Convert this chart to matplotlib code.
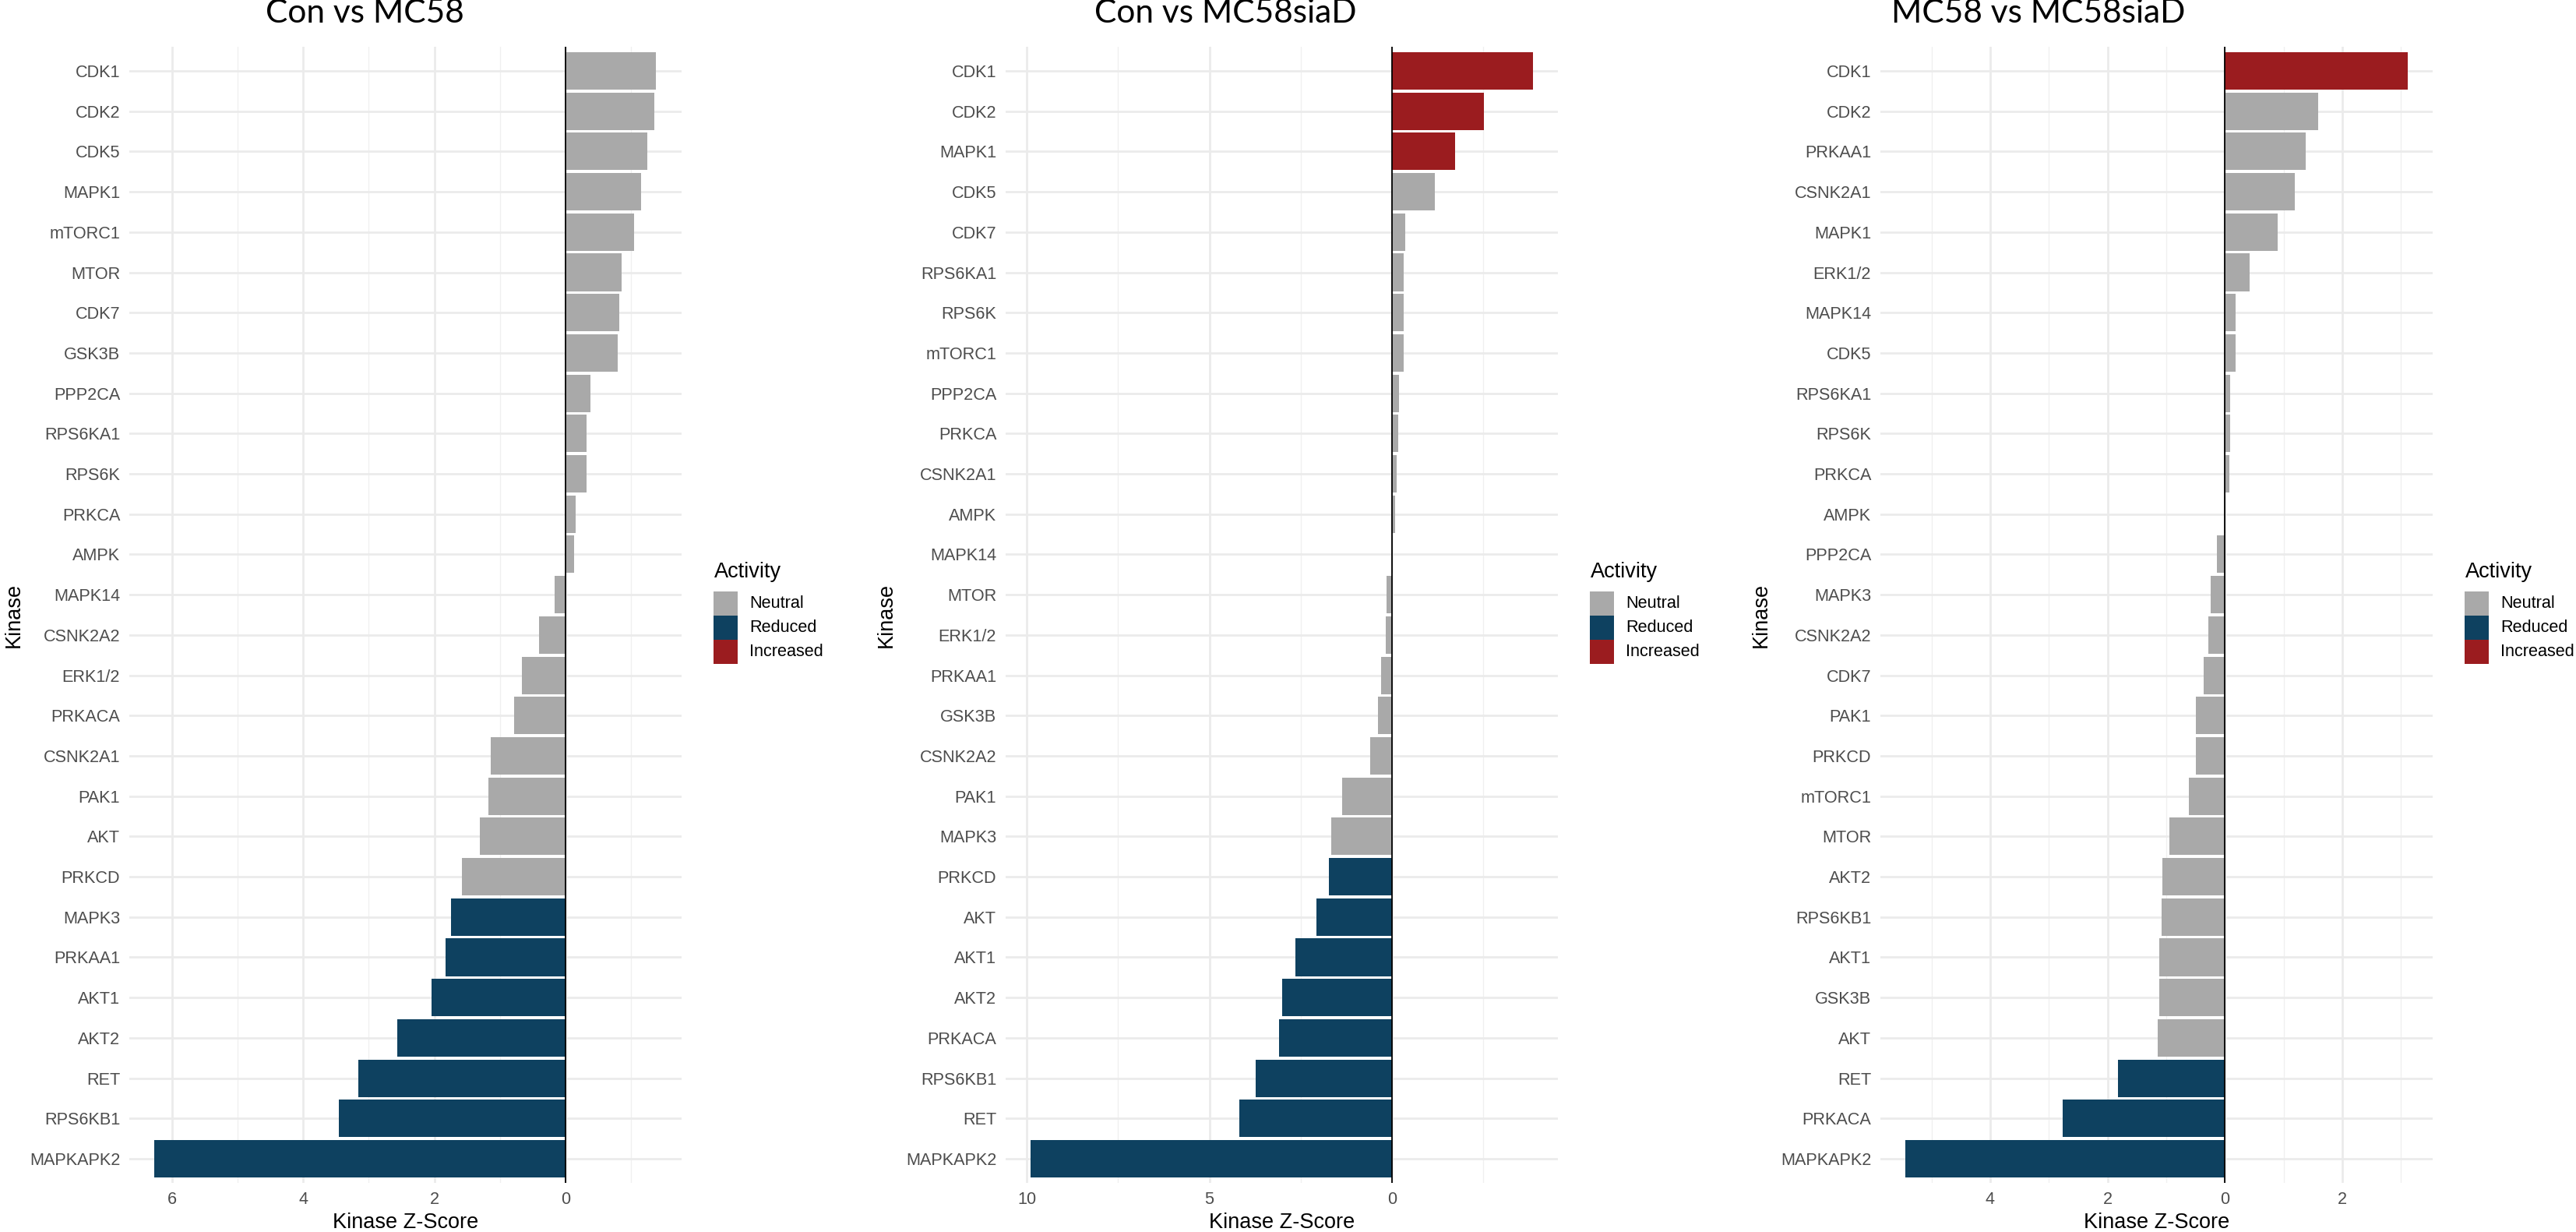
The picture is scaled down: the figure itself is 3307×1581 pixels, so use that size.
import matplotlib.pyplot as plt
from matplotlib.patches import Rectangle
from matplotlib.ticker import FixedLocator, FuncFormatter

plt.rcParams['font.family'] = ['Liberation Sans', 'DejaVu Sans']

# --- data (positive = right of zero) ---
titles = ['Con vs MC58', 'Con vs MC58siaD', 'MC58 vs MC58siaD']

kin1 = ['CDK1', 'CDK2', 'CDK5', 'MAPK1', 'mTORC1', 'MTOR', 'CDK7', 'GSK3B', 'PPP2CA',
        'RPS6KA1', 'RPS6K', 'PRKCA', 'AMPK', 'MAPK14', 'CSNK2A2', 'ERK1/2', 'PRKACA',
        'CSNK2A1', 'PAK1', 'AKT', 'PRKCD', 'MAPK3', 'PRKAA1', 'AKT1', 'AKT2', 'RET',
        'RPS6KB1', 'MAPKAPK2']
z1 = [1.38, 1.35, 1.25, 1.15, 1.05, 0.86, 0.82, 0.80, 0.38, 0.32, 0.32, 0.155, 0.13,
      -0.165, -0.40, -0.66, -0.78, -1.14, -1.18, -1.30, -1.58, -1.75, -1.83, -2.04,
      -2.56, -3.16, -3.45, -6.27]
reduced1 = ['MAPK3', 'PRKAA1', 'AKT1', 'AKT2', 'RET', 'RPS6KB1', 'MAPKAPK2']
increased1 = []

kin2 = ['CDK1', 'CDK2', 'MAPK1', 'CDK5', 'CDK7', 'RPS6KA1', 'RPS6K', 'mTORC1', 'PPP2CA',
        'PRKCA', 'CSNK2A1', 'AMPK', 'MAPK14', 'MTOR', 'ERK1/2', 'PRKAA1', 'GSK3B',
        'CSNK2A2', 'PAK1', 'MAPK3', 'PRKCD', 'AKT', 'AKT1', 'AKT2', 'PRKACA', 'RPS6KB1',
        'RET', 'MAPKAPK2']
z2 = [3.86, 2.52, 1.73, 1.17, 0.35, 0.31, 0.31, 0.31, 0.19, 0.16, 0.12, 0.08, 0.01,
      -0.15, -0.17, -0.30, -0.38, -0.59, -1.37, -1.67, -1.74, -2.07, -2.65, -3.01,
      -3.09, -3.74, -4.18, -9.90]
reduced2 = ['PRKCD', 'AKT', 'AKT1', 'AKT2', 'PRKACA', 'RPS6KB1', 'RET', 'MAPKAPK2']
increased2 = ['CDK1', 'CDK2', 'MAPK1']

kin3 = ['CDK1', 'CDK2', 'PRKAA1', 'CSNK2A1', 'MAPK1', 'ERK1/2', 'MAPK14', 'CDK5',
        'RPS6KA1', 'RPS6K', 'PRKCA', 'AMPK', 'PPP2CA', 'MAPK3', 'CSNK2A2', 'CDK7', 'PAK1',
        'PRKCD', 'mTORC1', 'MTOR', 'AKT2', 'RPS6KB1', 'AKT1', 'GSK3B', 'AKT', 'RET',
        'PRKACA', 'MAPKAPK2']
z3 = [3.11, 1.59, 1.37, 1.19, 0.90, 0.42, 0.18, 0.18, 0.09, 0.09, 0.07, 0.01, -0.13,
      -0.24, -0.28, -0.36, -0.49, -0.49, -0.62, -0.94, -1.06, -1.08, -1.12, -1.12,
      -1.14, -1.82, -2.77, -5.45]
reduced3 = ['RET', 'PRKACA', 'MAPKAPK2']
increased3 = ['CDK1']

levels = ['Neutral', 'Reduced', 'Increased']
colors = {'Neutral': '#A9A9A9', 'Reduced': '#0E4160', 'Increased': '#9B1C1F'}

# --- layout (pixels) ---
W, H = 3307, 1581
fig = plt.figure(figsize=(W / 100, H / 100), dpi=100)

ax_left = [166, 1291, 2414]
ax_w = 709
top, bottom = 60, 1518
ax_h = bottom - top
xlims = [(-6.65, 1.77), (-10.58, 4.54), (-5.87, 3.54)]
major = [[-6, -4, -2, 0], [-10, -5, 0], [-4, -2, 0, 2]]
minor = [[-5, -3, -1, 1], [-7.5, -2.5, 2.5], [-5, -3, -1, 1, 3]]
title_x = [468, 1573, 2617]
ylab_x = [18, 1138, 2261]

panels = [(kin1, z1, reduced1, increased1),
          (kin2, z2, reduced2, increased2),
          (kin3, z3, reduced3, increased3)]

for i, (kin, z, red, inc) in enumerate(panels):
    ax = fig.add_axes([ax_left[i] / W, (H - bottom) / H, ax_w / W, ax_h / H])
    act = ['Reduced' if k in red else 'Increased' if k in inc else 'Neutral' for k in kin]
    ypos = list(range(len(kin)))
    ax.barh(ypos, z, height=0.93, color=[colors[a] for a in act], zorder=2)
    ax.axvline(0, color='black', lw=1.3, zorder=3)

    ax.set_xlim(*xlims[i])
    ax.set_ylim(len(kin) - 0.4, -0.6)
    ax.set_yticks(ypos)
    ax.set_yticklabels(kin)
    ax.xaxis.set_major_locator(FixedLocator(major[i]))
    ax.xaxis.set_minor_locator(FixedLocator(minor[i]))
    ax.xaxis.set_major_formatter(FuncFormatter(lambda v, p: f'{abs(v):g}'))

    ax.set_axisbelow(True)
    ax.grid(which='major', color='#EBEBEB', lw=2.0)
    ax.grid(which='minor', axis='x', color='#F0F0F0', lw=1.0)
    for s in ax.spines.values():
        s.set_visible(False)
    ax.tick_params(which='both', length=0, labelsize=15.6, labelcolor='#4D4D4D')
    ax.tick_params(axis='y', pad=8.5)
    ax.tick_params(axis='x', pad=8)

    ax.set_xlabel('Kinase Z-Score', fontsize=19.5)
    ax.xaxis.set_label_coords(0.5, (bottom - 1569) / ax_h)
    ax.xaxis.label.set_va('center')
    ax.set_ylabel('Kinase', fontsize=19.5)
    ax.yaxis.set_label_coords((ylab_x[i] - ax_left[i]) / ax_w, 0.5)
    ax.yaxis.label.set_va('center')

    # legend, drawn by hand so the keys touch like ggplot's
    def pa(px, py):
        return ((px - ax_left[i]) / ax_w, (bottom - py) / ax_h)

    x0 = ax_left[i] + 750
    ax.text(*pa(x0 + 1, 741), 'Activity', fontsize=19.5, ha='left', va='baseline',
            transform=ax.transAxes)
    for j, lab in enumerate(levels):
        y0 = 759 + 31 * j
        ax.add_patch(Rectangle(pa(x0, y0 + 31), 31 / ax_w, 31 / ax_h, transform=ax.transAxes,
                               facecolor=colors[lab], edgecolor='none', clip_on=False))
        ax.text(*pa(x0 + 46, y0 + 15.5), lab, fontsize=15.6, ha='left', va='center',
                transform=ax.transAxes)

    fig.text(title_x[i] / W, 1 - 29 / H, titles[i], ha='center', va='baseline',
             fontsize=30.5, family=['Lato', 'DejaVu Sans'])

fig.savefig('out.png', dpi=100)
